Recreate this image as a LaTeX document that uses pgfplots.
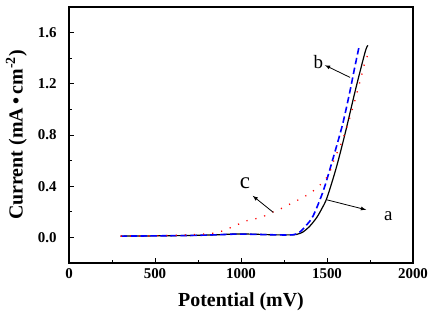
\documentclass[border=0pt]{standalone}
\usepackage{pgfplots}
\pgfplotsset{compat=1.18}
\usepackage{fontspec}
\setmainfont{Liberation Serif}
\begin{document}
\begin{tikzpicture}
\begin{axis}[
  scale only axis,
  width=344bp, height=256bp,
  xmin=0, xmax=2000, ymin=-0.2, ymax=1.8,
  xtick={0,500,1000,1500,2000},
  ytick={0,0.4,0.8,1.2,1.6},
  minor x tick num=1, minor y tick num=1,
  tick align=inside,
  xtick pos=bottom, ytick pos=left,
  major tick length=5bp, minor tick length=3bp,
  axis line style={line width=1.3pt},
  every tick/.style={black, line width=1pt},
  /pgf/number format/assume math mode=true,
  yticklabel style={/pgf/number format/fixed, /pgf/number format/fixed zerofill, /pgf/number format/precision=1, font=\bfseries\fontsize{15}{15}\selectfont, xshift=-9bp},
  xticklabel style={/pgf/number format/set thousands separator={}, font=\bfseries\fontsize{15}{15}\selectfont, yshift=-2bp},
  scaled y ticks=false,
  xlabel={Potential (mV)},
  ylabel={Current (mA\,•\,cm\textsuperscript{-2})},
  label style={font=\bfseries\fontsize{20}{20}\selectfont},
  xlabel style={yshift=-7bp},
  ylabel style={yshift=4bp},
]
% a: black solid
\addplot[black, line width=1.2pt, smooth] coordinates {
(300,0.010) (500,0.012) (700,0.015) (850,0.020) (950,0.026) (1000,0.027) (1100,0.024) (1200,0.020) (1300,0.020) (1330,0.026) (1360,0.042) (1400,0.088) (1440,0.155) (1470,0.225) (1500,0.310) (1553,0.540) (1605,0.810) (1665,1.150) (1722,1.450) (1738,1.500)
};
% b: blue dashed
\addplot[blue, line width=1.6pt, dash pattern=on 6.5pt off 3.5pt, smooth] coordinates {
(300,0.010) (500,0.012) (700,0.015) (850,0.020) (950,0.025) (1000,0.026) (1100,0.023) (1200,0.020) (1300,0.020) (1340,0.040) (1380,0.095) (1420,0.170) (1480,0.370) (1540,0.640) (1590,0.880) (1630,1.120) (1660,1.320) (1688,1.500)
};
% c: red dotted
\addplot[red, line width=1.3pt, dash pattern=on 1.2pt off 8pt, smooth] coordinates {
(300,0.010) (500,0.012) (700,0.020) (850,0.034) (907,0.060) (965,0.090) (1020,0.125) (1077,0.143) (1131,0.164) (1184,0.198) (1240,0.229) (1295,0.268) (1353,0.307) (1407,0.350) (1460,0.410) (1509,0.490) (1547,0.630) (1576,0.710) (1620,0.880) (1660,1.060) (1700,1.260) (1721,1.370) (1748,1.460)
};
\draw[-latex, line width=0.8pt] (axis cs:1634,1.25) -- (axis cs:1488,1.345);
\node[font=\fontsize{19}{19}\selectfont] at (axis cs:1450,1.37) {b};
\draw[-latex, line width=0.8pt] (axis cs:1188,0.195) -- (axis cs:1068,0.325);
\node[font=\fontsize{23}{23}\selectfont] at (axis cs:1023,0.42) {c};
\draw[-latex, line width=0.8pt] (axis cs:1498,0.294) -- (axis cs:1727,0.216);
\node[font=\fontsize{19}{19}\selectfont] at (axis cs:1856,0.164) {a};
\end{axis}
\pgfresetboundingbox
\path ([xshift=-69bp,yshift=-49bp]current axis.south west) rectangle ([xshift=21bp,yshift=7bp]current axis.north east);
\end{tikzpicture}
\end{document}
